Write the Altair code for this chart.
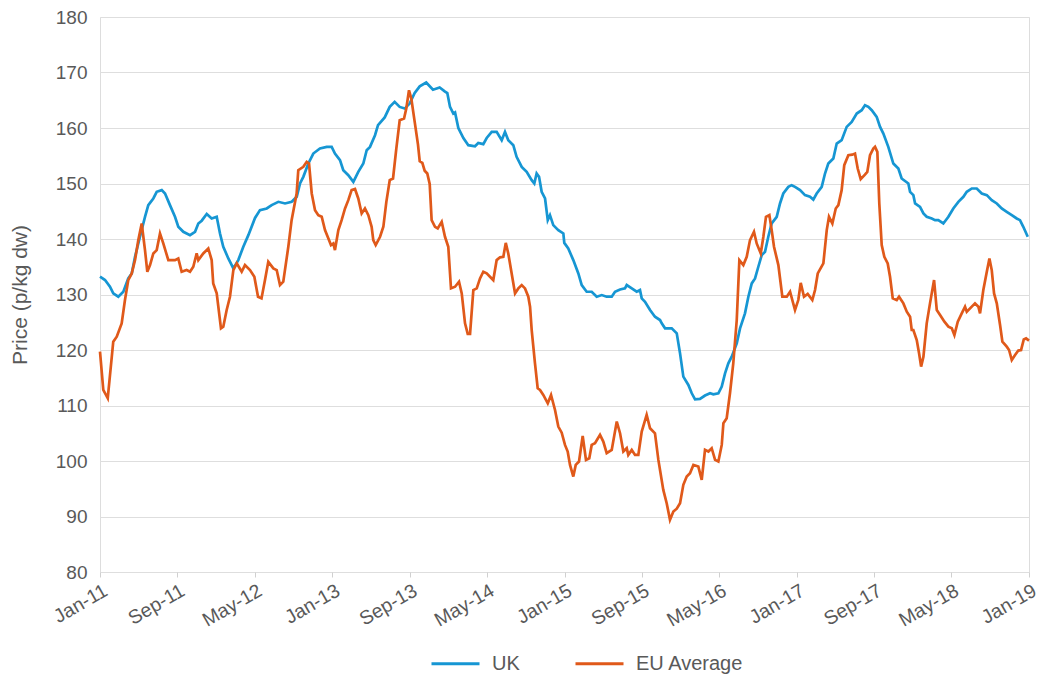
import altair as alt
import pandas as pd

# months since Jan 2011, and price (p/kg dw)
uk_months = [0.0,0.52,1.03,1.37,1.89,2.41,2.92,3.28,3.62,4.13,4.65,4.99,5.51,5.86,6.38,6.72,7.23,7.75,8.09,8.61,
             9.30,9.82,10.16,10.51,11.03,11.54,12.06,12.40,12.74,13.26,13.78,14.29,14.81,15.33,16.02,16.53,17.23,17.74,18.43,19.12,
             19.81,20.33,20.67,21.01,21.53,22.04,22.73,23.43,23.94,24.28,24.80,25.14,25.66,26.18,26.69,27.21,27.56,27.90,28.42,28.73,
             29.42,29.94,30.45,30.97,31.49,32.00,32.52,33.04,33.71,34.41,35.10,35.62,35.89,36.17,36.51,36.69,37.03,37.55,38.06,38.75,
             39.09,39.61,39.96,40.48,40.99,41.51,41.85,42.19,42.71,43.05,43.58,44.09,44.61,44.88,45.12,45.37,45.64,45.99,46.27,46.50,
             46.84,47.36,47.88,47.98,48.39,48.91,49.43,49.78,50.29,50.81,51.33,51.85,52.36,52.88,53.22,53.74,54.25,54.43,54.95,55.46,
             55.80,55.98,56.32,56.84,57.35,57.87,58.05,58.39,59.08,59.60,59.94,60.28,60.80,61.15,61.49,62.00,62.52,63.04,63.38,63.90,
             64.25,64.59,64.93,65.28,65.80,66.14,66.65,67.00,67.35,67.69,68.03,68.38,68.72,69.06,69.41,69.93,70.27,70.61,71.13,71.47,
             71.82,72.34,72.85,73.37,73.71,74.06,74.58,74.92,75.26,75.78,76.13,76.64,77.16,77.68,78.20,78.71,79.05,79.40,79.75,80.26,
             80.61,80.95,81.46,81.98,82.50,82.84,83.53,83.71,84.05,84.23,84.74,85.09,85.43,85.95,86.29,86.63,87.15,87.67,88.18,88.70,
             89.22,89.57,90.09,90.60,91.12,91.64,92.15,92.67,93.18,93.70,94.22,94.73,95.07,95.41,95.87]
uk_values = [133.2,132.6,131.4,130.2,129.6,130.5,132.9,133.8,136.8,140.4,144.0,146.1,147.3,148.5,148.8,148.2,146.1,144.0,142.2,141.3,
             140.7,141.3,142.8,143.3,144.5,143.7,144.0,141.0,138.6,136.5,134.7,136.2,138.6,140.7,143.8,145.2,145.5,146.1,146.7,146.4,
             146.7,147.6,150.0,151.2,153.6,155.4,156.3,156.6,156.6,155.4,154.2,152.4,151.5,150.3,152.1,153.6,156.0,156.6,158.7,160.5,
             161.9,163.8,164.7,163.8,163.5,164.4,166.3,167.5,168.2,166.9,167.3,166.6,166.3,163.8,162.6,162.8,160.0,158.2,156.9,156.7,
             157.3,157.1,158.2,159.3,159.3,157.8,159.3,157.8,156.9,154.8,153.0,152.1,150.6,150.0,151.8,151.2,148.5,147.3,143.4,144.3,
             142.5,141.6,141.0,139.3,138.3,136.2,133.8,131.7,130.5,130.5,129.6,129.9,129.6,129.6,130.5,130.9,131.1,131.7,131.1,130.5,
             130.8,129.3,128.7,127.2,126.0,125.4,124.8,123.9,123.9,123.0,119.4,115.2,113.7,112.2,111.1,111.2,111.8,112.2,112.0,112.2,
             113.4,115.8,117.6,118.8,121.2,123.9,126.6,129.6,132.0,132.9,135.0,137.1,137.7,140.4,142.8,144.0,146.4,148.2,149.4,149.7,
             149.4,148.8,147.9,147.6,147.1,148.2,149.4,151.8,153.6,154.5,157.2,157.8,160.2,161.1,162.6,163.2,164.1,163.8,163.2,162.0,
             160.2,159.0,156.6,153.6,152.7,150.9,150.0,148.5,147.9,146.4,145.8,144.6,144.0,143.7,143.4,143.4,142.8,144.0,145.5,146.7,
             147.6,148.5,149.1,149.1,148.2,147.9,147.0,146.4,145.5,144.9,144.3,143.7,143.4,142.2,140.4]

eu_months = [0.0,0.34,0.80,1.37,1.73,2.24,2.58,2.92,3.28,3.62,3.96,4.31,4.65,4.89,5.17,5.51,5.86,6.20,6.54,7.06,
             7.75,8.09,8.44,8.95,9.30,9.64,9.99,10.16,10.67,11.19,11.54,11.70,12.06,12.50,12.74,13.09,13.43,13.78,14.13,14.64,
             14.98,15.50,15.95,16.33,16.69,17.05,17.39,17.91,18.26,18.60,18.94,19.46,19.80,20.32,20.49,21.01,21.36,21.60,21.88,22.22,
             22.56,22.91,23.25,23.60,23.87,24.11,24.28,24.63,24.97,25.32,25.66,26.00,26.35,26.69,27.04,27.38,27.73,28.07,28.24,28.49,
             28.94,29.28,29.59,29.94,30.28,30.62,30.97,31.42,31.65,31.93,32.17,32.52,32.86,33.04,33.31,33.55,33.82,34.07,34.27,34.62,
             34.90,35.31,35.65,35.99,36.27,36.69,37.10,37.38,37.72,38.00,38.24,38.58,38.93,39.27,39.61,39.96,40.30,40.64,40.99,41.34,
             41.68,41.93,42.19,42.54,42.89,43.23,43.58,43.92,44.26,44.44,44.61,44.95,45.23,45.47,45.81,46.27,46.61,47.02,47.36,47.71,
             48.05,48.33,48.57,48.91,49.16,49.50,49.88,50.22,50.56,50.81,51.15,51.67,52.01,52.36,52.88,53.40,53.74,54.08,54.43,54.59,
             54.95,55.29,55.63,55.98,56.49,56.84,57.35,57.70,58.21,58.56,58.90,59.25,59.60,59.94,60.28,60.63,60.97,61.32,61.83,62.18,
             62.52,62.87,63.21,63.56,63.90,64.25,64.42,64.76,65.10,65.44,65.80,66.07,66.48,66.83,67.17,67.58,67.86,68.28,68.55,68.82,
             69.17,69.41,69.65,70.10,70.51,70.97,71.31,71.82,72.16,72.41,72.75,73.13,73.61,73.89,74.17,74.75,75.10,75.33,75.68,76.03,
             76.30,76.64,76.91,77.33,77.74,78.02,78.30,78.61,79.05,79.29,79.57,79.91,80.09,80.33,80.53,80.78,81.05,81.40,81.64,81.92,
             82.33,82.57,83.02,83.37,83.71,83.88,84.05,84.40,84.64,84.85,85.09,85.43,85.77,86.19,86.47,86.81,87.26,87.67,88.02,88.29,
             88.64,89.05,89.39,89.57,89.91,90.42,90.77,90.94,91.28,91.64,91.91,92.15,92.39,92.67,93.01,93.25,93.70,93.94,94.22,94.56,
             94.90,95.18,95.46,95.70,96.00]
eu_values = [119.7,112.8,111.3,121.5,122.4,124.8,129.0,132.6,133.8,136.2,139.8,142.8,138.0,134.1,135.3,137.4,138.0,141.0,139.2,136.2,
             136.2,136.5,134.1,134.4,134.1,135.0,137.4,136.2,137.4,138.3,136.2,132.0,130.2,123.9,124.2,127.2,129.6,134.4,135.6,134.1,
             135.3,134.4,133.2,129.6,129.3,132.6,135.9,134.7,134.4,131.7,132.3,138.6,143.4,148.2,152.4,153.0,153.9,153.6,148.2,145.2,
             144.3,144.0,141.6,140.1,138.9,139.2,138.0,141.6,143.4,145.5,147.0,148.8,149.0,147.3,144.6,145.5,144.3,142.2,139.8,138.9,
             140.4,142.2,146.7,150.6,150.9,156.3,161.4,161.7,163.5,166.8,165.3,161.1,157.0,154.0,153.7,152.3,151.8,149.9,143.4,142.2,
             141.9,143.1,140.4,138.6,131.1,131.4,132.3,130.2,124.8,122.9,122.9,130.8,131.1,132.9,134.1,133.8,133.2,132.6,136.2,136.7,
             136.8,139.3,137.4,133.8,130.2,131.1,131.7,131.1,129.6,127.8,123.6,117.6,113.1,112.8,111.9,110.4,111.9,109.2,106.2,105.1,
             102.9,101.7,99.3,97.2,99.3,99.9,104.5,100.2,100.5,102.9,103.2,104.7,103.5,101.4,102.0,107.1,105.0,101.7,102.3,101.1,
             102.0,101.1,101.1,105.3,108.3,105.9,105.0,100.2,94.8,92.4,89.4,90.9,91.4,92.4,95.7,97.2,97.8,99.3,99.0,96.6,
             102.0,101.7,102.3,100.2,99.9,102.9,106.8,107.7,112.2,117.6,125.4,136.2,135.3,136.8,139.8,141.3,139.2,137.4,140.4,144.0,
             144.3,141.6,138.6,135.3,129.6,129.6,130.5,127.2,129.0,132.1,129.6,130.1,129.0,130.8,133.8,135.6,141.6,144.0,142.8,145.5,
             146.1,148.8,153.3,155.1,155.2,155.4,152.7,150.8,151.6,152.1,155.1,156.3,156.6,155.7,146.4,138.9,136.8,135.6,133.2,129.3,
             129.0,129.6,128.4,126.9,126.0,123.6,123.6,121.8,119.4,117.0,118.8,124.8,128.4,132.6,127.2,126.3,125.1,124.2,123.9,122.7,
             125.1,126.6,127.8,126.9,127.5,128.4,127.8,126.6,130.8,134.1,136.5,134.4,130.2,128.4,124.5,121.5,120.6,120.0,118.2,119.1,
             119.9,120.0,121.9,122.1,121.7]

series_names = ["UK", "EU Average"]
series_colors = ["#1696d3", "#e0591a"]
tick_dates = ["2011-01-01", "2011-09-01", "2012-05-01", "2013-01-01", "2013-09-01", "2014-05-01", "2015-01-01",
              "2015-09-01", "2016-05-01", "2017-01-01", "2017-09-01", "2018-05-01", "2019-01-01"]
y_ticks = [80, 90, 100, 110, 120, 130, 140, 150, 160, 170, 180]

base = pd.Timestamp("2011-01-01")
DAYS_PER_MONTH = 365.25 / 12


def frame(months, values, name):
    dates = [base + pd.Timedelta(days=m * DAYS_PER_MONTH) for m in months]
    return pd.DataFrame({
        "date": [d.strftime("%Y-%m-%dT%H:%M:%S") for d in dates],
        "price": values,
        "series": name,
    })


uk_df = frame(uk_months, uk_values, "UK")
eu_df = frame(eu_months, eu_values, "EU Average")

FONT = "Liberation Sans"
GREY = "#595959"

tick_vals = [alt.DateTime(year=int(t[:4]), month=int(t[5:7]), date=1) for t in tick_dates]

x_enc = alt.X(
    "date:T",
    scale=alt.Scale(domain=[alt.DateTime(year=2011, month=1, date=1), alt.DateTime(year=2019, month=1, date=1)], nice=False),
    axis=alt.Axis(values=tick_vals, format="%b-%y", labelAngle=-30, labelAlign="right", labelBaseline="top",
                  grid=False, domain=False, ticks=True, tickColor="#d0d0d0", tickSize=5, labelPadding=4,
                  labelOffset=1,
                  labelFontSize=19.5, labelColor=GREY, labelFont=FONT, title=None, labelOverlap=False),
)
y_enc = alt.Y(
    "price:Q",
    scale=alt.Scale(domain=[80, 180], nice=False, zero=False),
    axis=alt.Axis(values=y_ticks, grid=True, gridColor="#dedede", gridWidth=1, domain=False, ticks=False,
                  labelPadding=13, labelFontSize=19, labelColor=GREY, labelFont=FONT,
                  title="Price (p/kg dw)", titleFontSize=21, titleFont=FONT, titleColor=GREY,
                  titleFontWeight="normal", titlePadding=25),
)
color_enc = alt.Color(
    "series:N",
    scale=alt.Scale(domain=series_names, range=series_colors),
    legend=alt.Legend(title=None, orient="none", direction="horizontal", legendX=330, legendY=621,
                      symbolType="stroke", symbolSize=2304, symbolStrokeWidth=3, labelFontSize=20,
                      labelFont=FONT, labelColor=GREY, labelOffset=11, columnPadding=49, padding=0),
)

uk_line = alt.Chart(uk_df).mark_line(strokeWidth=2.7).encode(x=x_enc, y=y_enc, color=color_enc)
eu_line = alt.Chart(eu_df).mark_line(strokeWidth=2.7).encode(x=x_enc, y=y_enc, color=color_enc)

chart = alt.layer(uk_line, eu_line).properties(
    width=929, height=555,
    autosize=alt.AutoSizeParams(type="none"),
    padding={"left": 92, "top": 9, "right": 12, "bottom": 102},
).configure_view(stroke=None).configure(background="white")

chart.save("out.html", embed_options={"renderer": "svg", "actions": False})
